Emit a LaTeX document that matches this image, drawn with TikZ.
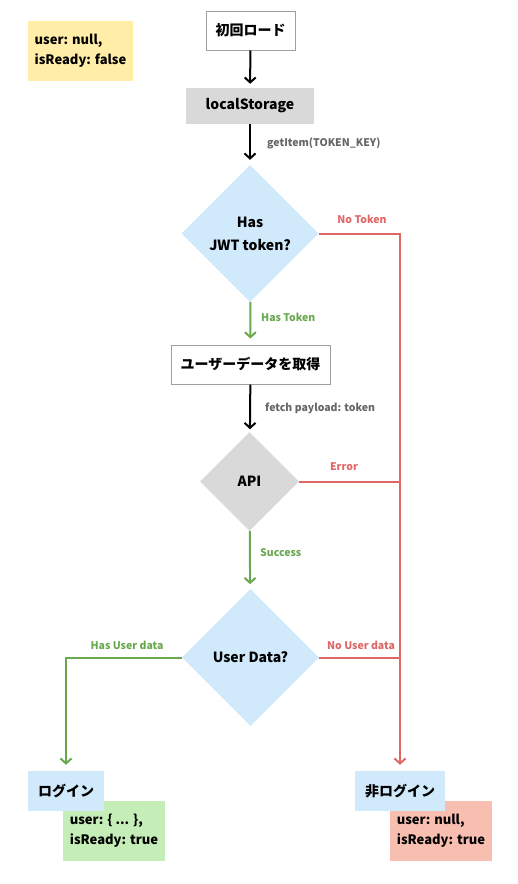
\documentclass[tikz,border=0pt]{standalone}
\usepackage{fontspec}
\setmainfont{Noto Sans CJK JP}
\usepackage{xcolor}
\usepackage{tikz}
\usetikzlibrary{arrows.meta, positioning, shapes.geometric}

\definecolor{skyfill}{HTML}{D0E9FB}
\definecolor{greyfill}{HTML}{D9D9D9}
\definecolor{notefill}{HTML}{FFEDA8}
\definecolor{okfill}{HTML}{C5EDB7}
\definecolor{ngfill}{HTML}{F8BFB1}
\definecolor{okline}{HTML}{6AA84F}
\definecolor{ngline}{HTML}{E06666}
\definecolor{lbl}{HTML}{666666}

\begin{document}
\begin{tikzpicture}[x=1pt, y=-1pt,
    font=\bfseries\fontsize{14}{17}\selectfont,
    box/.style={draw=gray!75, line width=1pt, minimum height=39pt, inner sep=0pt},
    store/.style={fill=greyfill, minimum height=36pt, inner sep=0pt},
    ask/.style={diamond, aspect=1, fill=skyfill, minimum size=137pt, inner sep=0pt, align=center,
        font=\bfseries\fontsize{14}{23}\selectfont},
    api/.style={diamond, aspect=1, fill=greyfill, minimum size=99pt, inner sep=0pt},
    state/.style={minimum width=#1, minimum height=40pt, inner sep=0pt, fill=skyfill},
    note/.style={minimum height=60pt, inner sep=0pt, align=left,
        font=\bfseries\fontsize{13}{20}\selectfont},
    lab/.style={font=\bfseries\fontsize{10.5}{13}\selectfont, inner sep=0pt},
    flow/.style={line width=2pt, -{Straight Barb[length=5pt, width=11pt, line width=2pt]}},
    okflow/.style={flow, draw=okline},
    ngflow/.style={flow, draw=ngline}]
    \useasboundingbox (0,0) rectangle (518,884);

    % starting state
    \node[note, fill=notefill, minimum width=105pt] (init) at (80.5,51) {user: null,\\isReady: false};

    \node[box, minimum width=89pt] (load) at (250.5,30.5) {初回ロード};
    \node[store, minimum width=128pt] (ls) at (250,106) {localStorage};
    \node[ask] (jwt) at (250,233.5) {Has\\JWT token?};
    \node[box, minimum width=159pt] (fetch) at (250.5,364.5) {ユーザーデータを取得};
    \node[api] (call) at (249.5,481.5) {API};
    \node[ask] (ud) at (250.5,657.5) {User Data?};

    % results
    \node[note, fill=okfill, minimum width=102pt] (okst) at (114,831) {user: \{ ... \},\\isReady: true};
    \node[state=76pt] (login) at (66,791) {ログイン};
    \node[note, fill=ngfill, minimum width=102pt] (ngst) at (441,831) {user: null,\\isReady: true};
    \node[state=90pt] (nologin) at (400,791) {非ログイン};

    \draw[flow, shorten >=4pt] (load) -- (ls);
    \draw[flow, shorten >=5pt] (ls) -- (jwt);
    \draw[okflow, shorten >=6pt] (jwt) -- (fetch);
    \draw[flow, shorten >=3pt] (fetch) -- (call);
    \draw[okflow, shorten >=5pt] (call) -- (ud);
    \draw[okflow, shorten >=6pt] (ud.west) -| (login.north);
    \draw[ngflow, shorten >=6pt] (jwt.east) -| (nologin.north);
    \draw[ngline, line width=2pt] (call.east) -- (call.east -| nologin.north);
    \draw[ngline, line width=2pt] (ud.east) -- (ud.east -| nologin.north);

    % edge labels
    \node[lab, lbl, anchor=west] (l1) at (267,143) {getItem(TOKEN\_KEY)};
    \node[lab, ngline] (l2) at (362,219) {No Token};
    \node[lab, okline, anchor=west] (l3) at (261,317) {Has Token};
    \node[lab, lbl, anchor=west] (l4) at (265,408) {fetch payload: token};
    \node[lab, ngline] (l5) at (344,467) {Error};
    \node[lab, okline, anchor=west] (l6) at (260,553) {Success};
    \node[lab, okline] (l7) at (127,645) {Has User data};
    \node[lab, ngline] (l8) at (361,645) {No User data};
\end{tikzpicture}
\end{document}
